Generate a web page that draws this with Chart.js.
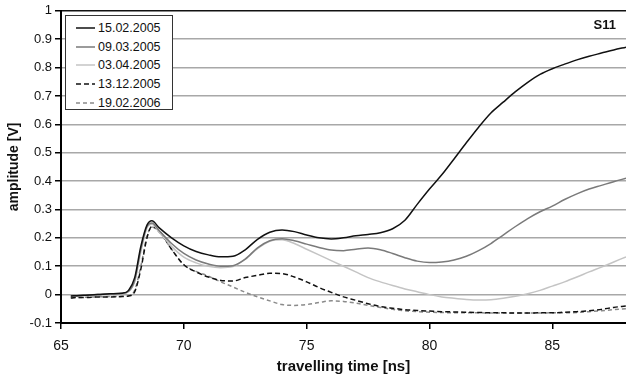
<!DOCTYPE html>
<html>
<head>
<meta charset="utf-8">
<script src="https://cdn.jsdelivr.net/npm/chart.js@4.4.1/dist/chart.umd.min.js"></script>
<style>
    body { margin: 0; background: #fff; }
    #wrap { position: relative; width: 626px; height: 380px; font-family: "Liberation Sans", Arial, sans-serif; }
    #legend {
        position: absolute; left: 65px; top: 15px; width: 108px; height: 95px;
        border: 1.5px solid #333; background: #fff; box-sizing: border-box;
        padding-top: 3px;
    }
    .row { height: 18.6px; display: flex; align-items: center; font-size: 12.5px; color: #111; }
    .row svg { margin-left: 10px; margin-right: 3px; }
    #tag { position: absolute; right: 10px; top: 17px; font-weight: bold; font-size: 13px; color: #111; }
</style>
</head>
<body>
<div id="wrap">
    <canvas id="chart" width="626" height="380"></canvas>
    <div id="legend"></div>
    <div id="tag">S11</div>
</div>
<script>
// travelling time [ns]
const times = [65.4, 65.75, 66, 66.5, 67, 67.5, 67.75, 68, 68.25, 68.5, 68.7, 69, 69.5, 70, 70.5,
    71, 71.5, 72, 72.5, 73, 73.5, 74, 74.5, 75, 75.5, 76, 76.5, 77, 77.5, 78, 78.5, 79, 79.5,
    80, 80.5, 81, 81.5, 82, 82.5, 83, 83.5, 84, 84.5, 85, 85.5, 86, 86.5, 87, 87.5, 88];

const labels = ['15.02.2005', '09.03.2005', '03.04.2005', '13.12.2005', '19.02.2006'];

// amplitude [V]
const s1 = [-0.005, -0.003, -0.002, 0, 0.003, 0.005, 0.015, 0.06, 0.17, 0.245, 0.26, 0.235, 0.2, 0.172, 0.152,
    0.14, 0.133, 0.135, 0.158, 0.195, 0.22, 0.228, 0.222, 0.21, 0.2, 0.196, 0.2, 0.207, 0.212, 0.218, 0.232, 0.262, 0.318,
    0.372, 0.422, 0.478, 0.535, 0.59, 0.64, 0.678, 0.715, 0.748, 0.776, 0.796, 0.812, 0.827, 0.84, 0.851, 0.862, 0.872];
const s2 = [-0.005, -0.004, -0.002, 0, 0.003, 0.005, 0.012, 0.05, 0.16, 0.24, 0.252, 0.225, 0.18, 0.145, 0.122,
    0.108, 0.1, 0.102, 0.125, 0.165, 0.19, 0.197, 0.19, 0.178, 0.166, 0.157, 0.155, 0.16, 0.164, 0.158, 0.145, 0.13, 0.118,
    0.113, 0.115, 0.122, 0.135, 0.155, 0.18, 0.21, 0.24, 0.268, 0.292, 0.312, 0.335, 0.355, 0.372, 0.385, 0.398, 0.41];
const s3 = [-0.004, -0.004, -0.002, 0, 0.002, 0.004, 0.01, 0.045, 0.15, 0.235, 0.248, 0.22, 0.17, 0.132, 0.112,
    0.1, 0.095, 0.099, 0.125, 0.162, 0.188, 0.193, 0.18, 0.16, 0.14, 0.12, 0.1, 0.08, 0.06, 0.045, 0.032, 0.02, 0.01,
    0, -0.008, -0.013, -0.017, -0.019, -0.018, -0.013, -0.006, 0.003, 0.015, 0.03, 0.045, 0.062, 0.08, 0.097, 0.115, 0.133];
const s4 = [-0.012, -0.01, -0.01, -0.008, -0.008, -0.007, -0.005, 0.01, 0.09, 0.2, 0.24, 0.225, 0.16, 0.105, 0.08,
    0.062, 0.05, 0.048, 0.06, 0.068, 0.075, 0.074, 0.062, 0.045, 0.025, 0.008, -0.008, -0.02, -0.032, -0.042, -0.048, -0.053, -0.056,
    -0.058, -0.06, -0.061, -0.062, -0.063, -0.064, -0.064, -0.065, -0.065, -0.064, -0.064, -0.062, -0.06, -0.057, -0.052, -0.045, -0.04];
const s5 = [-0.01, -0.01, -0.009, -0.008, -0.007, -0.006, -0.004, 0.015, 0.1, 0.205, 0.238, 0.22, 0.16, 0.105, 0.082,
    0.065, 0.045, 0.027, 0.008, -0.008, -0.022, -0.035, -0.038, -0.035, -0.028, -0.022, -0.024, -0.03, -0.038, -0.045, -0.052, -0.057, -0.06,
    -0.062, -0.063, -0.064, -0.064, -0.064, -0.065, -0.065, -0.065, -0.065, -0.065, -0.064, -0.064, -0.063, -0.06, -0.057, -0.053, -0.05];

const yTicks = [-0.1, 0, 0.1, 0.2, 0.3, 0.4, 0.5, 0.6, 0.7, 0.8, 0.9, 1];
const xTicks = [65, 70, 75, 80, 85];

const colors = ['#111111', '#7a7a7a', '#c4c4c4', '#111111', '#8a8a8a'];
const dashes = [[], [], [], [5, 3], [4, 3]];
const series = [s1, s2, s3, s4, s5];

function toPoints(values) {
    return times.map((t, i) => ({ x: t, y: values[i] }));
}

const datasets = series.map((values, i) => ({
    label: labels[i],
    data: toPoints(values),
    borderColor: colors[i],
    borderWidth: 1.5,
    borderDash: dashes[i],
    pointRadius: 0,
    cubicInterpolationMode: 'monotone',
    fill: false
}));

// legend overlay
const legendBox = document.getElementById('legend');
labels.forEach((name, i) => {
    const row = document.createElement('div');
    row.className = 'row';
    const dash = dashes[i].length ? `stroke-dasharray="${dashes[i].join(' ')}"` : '';
    row.innerHTML = `<svg width="19" height="4"><line x1="0" y1="2" x2="19" y2="2" stroke="${colors[i]}" stroke-width="1.5" ${dash}/></svg><span>${name}</span>`;
    legendBox.appendChild(row);
});

const font = { family: '"Liberation Sans", Arial, sans-serif' };

new Chart(document.getElementById('chart'), {
    type: 'line',
    data: { datasets },
    options: {
        responsive: false,
        animation: false,
        layout: { padding: { top: 10, right: 0, left: 0, bottom: 0 } },
        plugins: { legend: { display: false }, tooltip: { enabled: false } },
        scales: {
            x: {
                type: 'linear',
                min: 65,
                max: 88,
                afterBuildTicks: (axis) => { axis.ticks = xTicks.map(v => ({ value: v })); },
                afterFit: (axis) => { axis.height = 57; },
                border: { color: '#000', width: 2 },
                grid: { drawOnChartArea: false, drawTicks: true, tickLength: 6, tickColor: '#000', lineWidth: 1.5 },
                ticks: { color: '#111', font: { ...font, size: 14 }, padding: 9, maxRotation: 0 },
                title: { display: true, text: 'travelling time [ns]', color: '#111', font: { ...font, size: 15, weight: 'bold' }, padding: { top: 4 } }
            },
            y: {
                min: -0.1,
                max: 1,
                afterBuildTicks: (axis) => { axis.ticks = yTicks.map(v => ({ value: v })); },
                afterFit: (axis) => { axis.width = 61; },
                border: { color: '#000', width: 2 },
                grid: {
                    color: (ctx) => (ctx.tick && ctx.tick.value === 1 ? '#111' : '#a8a8a8'),
                    lineWidth: 1.5,
                    tickLength: 6,
                    tickColor: '#000'
                },
                ticks: {
                    color: '#111',
                    font: { ...font, size: 13 },
                    padding: 3,
                    callback: (v) => String(Math.round(v * 10) / 10)
                },
                title: { display: true, text: 'amplitude [V]', color: '#111', font: { ...font, size: 14, weight: 'bold' }, padding: { top: 6, bottom: 0 } }
            }
        }
    }
});
</script>
</body>
</html>
